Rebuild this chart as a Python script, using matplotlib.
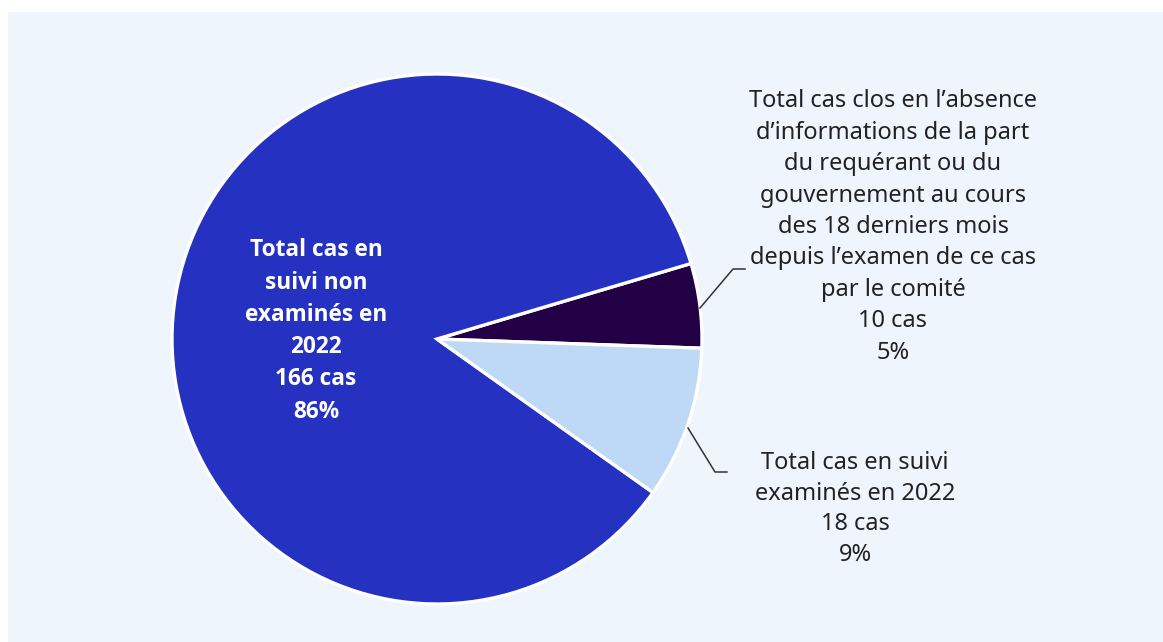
import matplotlib.pyplot as plt
from matplotlib.patches import Rectangle

# values (cas), ordered counterclockwise from the right
labels = ["Total cas clos en l\u2019absence\nd\u2019informations de la part\ndu requ\u00e9rant ou du\ngouvernement au cours\ndes 18 derniers mois\ndepuis l\u2019examen de ce cas\npar le comit\u00e9",
          "Total cas en\nsuivi non\nexamin\u00e9s en\n2022",
          "Total cas en suivi\nexamin\u00e9s en 2022"]
cases = [10, 166, 18]
percents = [5, 86, 9]
colors = ["#230046", "#2531c1", "#bed9f6"]

W, H = 1163, 642
plt.rcParams['font.family'] = ['Noto Sans', 'DejaVu Sans']

fig = plt.figure(figsize=(W / 100, H / 100), dpi=100, facecolor="white")
ax = fig.add_axes([0, 0, 1, 1])

# light panel behind the chart
ax.add_patch(Rectangle((8, 0), W - 8, H - 12, facecolor="#eff5fd", edgecolor="none", zorder=0))

cx, cy, r = 437, H - 339, 265
wedges, _ = ax.pie(cases, colors=colors, startangle=-2, counterclock=True,
                   center=(cx, cy), radius=r, frame=True,
                   wedgeprops=dict(edgecolor="white", linewidth=2.4))
ax.set_xlim(0, W)
ax.set_ylim(0, H)
ax.set_aspect("equal")
ax.axis("off")

# label inside the big slice
ax.text(316, H - 331, f"{labels[1]}\n{cases[1]} cas\n{percents[1]}%", ha="center", va="center",
        color="white", fontsize=16.3, fontweight="bold", linespacing=1.46,
        family=['Open Sans', 'DejaVu Sans'])

# outside labels
ax.text(893, H - 227, f"{labels[0]}\n{cases[0]} cas\n{percents[0]}%", ha="center", va="center",
        color="#222222", fontsize=17, linespacing=1.41)
ax.text(855, H - 509, f"{labels[2]}\n{cases[2]} cas\n{percents[2]}%", ha="center", va="center",
        color="#222222", fontsize=17, linespacing=1.36)

# leader lines
ax.plot([700, 733, 745], [H - 308, H - 269, H - 269], color="#333333", lw=1.1)
ax.plot([688, 715, 727], [H - 428, H - 472, H - 472], color="#333333", lw=1.1)

fig.savefig("out.png", dpi=100, facecolor="white")
